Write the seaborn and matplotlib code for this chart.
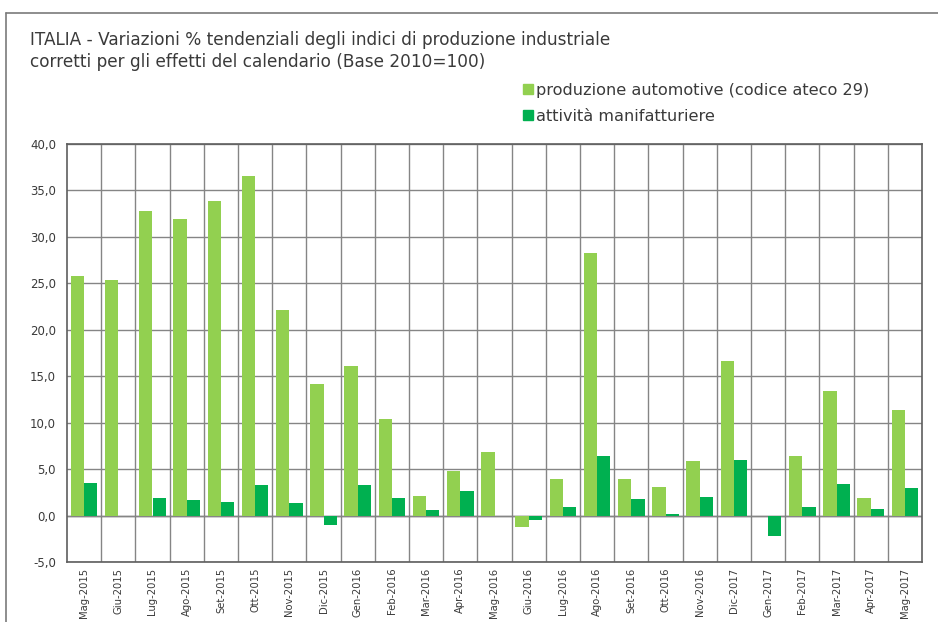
import matplotlib
matplotlib.use("Agg")
import matplotlib.pyplot as plt
import seaborn as sns
import pandas as pd
import numpy as np
from matplotlib.ticker import FuncFormatter, MultipleLocator
from matplotlib.lines import Line2D

months = ["Mag-2015", "Giu-2015", "Lug-2015", "Ago-2015", "Set-2015", "Ott-2015",
          "Nov-2015", "Dic-2015", "Gen-2016", "Feb-2016", "Mar-2016", "Apr-2016",
          "Mag-2016", "Giu-2016", "Lug-2016", "Ago-2016", "Set-2016", "Ott-2016",
          "Nov-2016", "Dic-2017", "Gen-2017", "Feb-2017", "Mar-2017", "Apr-2017",
          "Mag-2017"]
automotive = [25.8, 25.4, 32.8, 31.9, 33.9, 36.6, 22.1, 14.2, 16.1, 10.4, 2.1, 4.8,
              6.8, -1.2, 3.9, 28.3, 3.9, 3.1, 5.9, 16.6, 0.0, 6.4, 13.4, 1.9, 11.4]
manifatturiere = [3.5, 0.0, 1.9, 1.7, 1.5, 3.3, 1.4, -1.0, 3.3, 1.9, 0.6, 2.6,
                  -0.1, -0.5, 0.9, 6.4, 1.8, 0.2, 2.0, 6.0, -2.2, 0.9, 3.4, 0.7, 3.0]
series_names = ["produzione automotive (codice ateco 29)", "attività manifatturiere"]
colors = ["#92D050", "#00B050"]

df = pd.DataFrame({
    "mese": months * 2,
    "valore": automotive + manifatturiere,
    "serie": [series_names[0]] * len(months) + [series_names[1]] * len(months),
})

sns.set_theme(style="white")
plt.rcParams["font.family"] = ["DejaVu Sans"]
text_color = "#3a3a3a"

fig = plt.figure(figsize=(9.38, 6.22), dpi=100)
ax = fig.add_axes([67 / 938, 1 - 562 / 622, (922 - 67) / 938, (562 - 144) / 622])

sns.barplot(data=df, x="mese", y="valore", hue="serie", order=months,
            hue_order=series_names, palette=colors, saturation=1, width=0.78,
            ax=ax, legend=False, linewidth=0, edgecolor="none")

ax.set_ylim(-5, 40)
ax.set_xlim(-0.5, len(months) - 0.5)
ax.yaxis.set_major_locator(MultipleLocator(5))
ax.yaxis.set_major_formatter(FuncFormatter(lambda v, p: f"{v:.1f}".replace(".", ",")))
ax.set_xlabel("")
ax.set_ylabel("")

# grid
ax.set_axisbelow(True)
ax.grid(axis="y", color="#858585", linewidth=1.0)
for b in np.arange(0.5, len(months) - 0.5, 1):
    ax.axvline(b, color="#858585", linewidth=1.0, zorder=0)
ax.axhline(0, color="#707070", linewidth=1.0, zorder=0.5)

for s in ax.spines.values():
    s.set_color("#5e5e5e")
    s.set_linewidth(1.2)

ax.tick_params(axis="y", labelsize=8.5, colors=text_color, length=0, pad=8)
ax.tick_params(axis="x", labelsize=7.2, colors=text_color, length=0, pad=4)
plt.setp(ax.get_xticklabels(), rotation=90, ha="center", va="top")

# title
fig.text(30 / 938, 1 - 40 / 622, "ITALIA - Variazioni % tendenziali degli indici di produzione industriale",
         fontsize=12.2, color=text_color, va="center", ha="left")
fig.text(30 / 938, 1 - 62 / 622, "corretti per gli effetti del calendario (Base 2010=100)",
         fontsize=12.2, color=text_color, va="center", ha="left")

# legend
handles = [Line2D([0], [0], marker="s", linestyle="", markersize=6.5,
                  markerfacecolor=c, markeredgecolor=c) for c in colors]
fig.legend(handles, series_names, loc="upper left",
           bbox_to_anchor=(522 / 938, 1 - 83 / 622), frameon=False,
           fontsize=11.6, labelcolor=text_color, handletextpad=0.05,
           handlelength=0.8, labelspacing=0.68, borderaxespad=0, borderpad=0)

# outer frame
fig.add_artist(Line2D([6 / 938, 1.0], [1 - 13 / 622, 1 - 13 / 622],
                      transform=fig.transFigure, color="#7a7a7a", linewidth=1.2))
fig.add_artist(Line2D([6 / 938, 6 / 938], [0, 1 - 13 / 622],
                      transform=fig.transFigure, color="#7a7a7a", linewidth=1.2))

fig.savefig("out.png", dpi=100, facecolor="white")
